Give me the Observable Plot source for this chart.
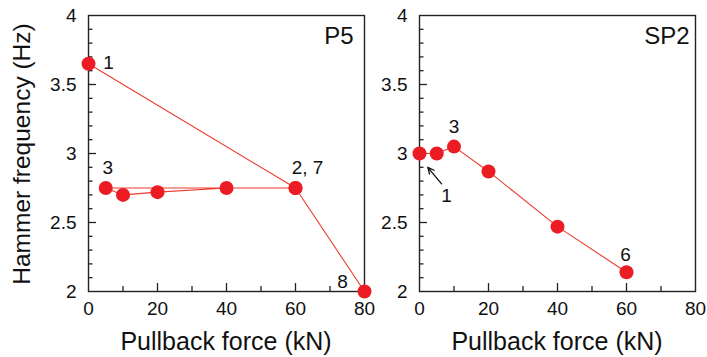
<!DOCTYPE html>
<html>
<head>
<meta charset="utf-8">
<script src="https://cdn.jsdelivr.net/npm/d3@7"></script>
<script src="https://cdn.jsdelivr.net/npm/@observablehq/plot@0.6"></script>
<style>
  body { margin: 0; background: #fff; }
  #wrap { position: relative; width: 707px; height: 357px; overflow: hidden; font-family: "Liberation Sans", Arial, sans-serif; color: #111; }
  .panel { position: absolute; top: 0; }
  .panel svg { overflow: visible; }
  .title { position: absolute; white-space: nowrap; transform: translate(-50%, -50%); font-size: 25px; }
</style>
</head>
<body>
<div id="wrap">
  <div id="left" class="panel" style="left:0px"></div>
  <div id="right" class="panel" style="left:360px"></div>
  <div class="title" style="left:22px; top:154px; transform: translate(-50%, -50%) rotate(-90deg); font-size:24.5px;">Hammer frequency (Hz)</div>
  <div class="title" style="left:226px; top:341px;">Pullback force (kN)</div>
  <div class="title" style="left:557px; top:341px;">Pullback force (kN)</div>
</div>
<script>
// ---- data ----
const p5Force = [0, 60, 5, 10, 20, 40, 60, 80];
const p5Freq  = [3.65, 2.75, 2.75, 2.70, 2.72, 2.75, 2.75, 2.00];
const p5LabelPoint = [0, 2, 1, 7];
const p5LabelText  = ["1", "3", "2, 7", "8"];

const sp2Force = [0, 5, 10, 20, 40, 60];
const sp2Freq  = [3.00, 3.00, 3.05, 2.87, 2.47, 2.14];
const sp2LabelPoint = [2, 5, 0];
const sp2LabelText  = ["3", "6", "1"];
const sp2ArrowFrom = [6.4, 2.78];
const sp2ArrowTo   = [2.4, 2.90];

const xTicks = [0, 20, 40, 60, 80];
const xMinorTicks = [10, 30, 50, 70];
const yTicks = [2, 2.5, 3, 3.5, 4];
const yMinorTicks = [2.1, 2.2, 2.3, 2.4, 2.6, 2.7, 2.8, 2.9, 3.1, 3.2, 3.3, 3.4, 3.6, 3.7, 3.8, 3.9];

// ---- styles ----
const RED = "#ec1c24";
const LINE = "#ef3a2c";
const INK = "#222";
const FRAME = 276; // plot area size in px (square)
const labelOffsets = {
  P5: [[20, -1], [2, -20], [12, -20], [-22, -10]],
  SP2: [[0, -20], [-1, -17], [27, 42]]
};
const titleDx = { P5: -11, SP2: -6 };

function panel(force, freq, labelPoint, labelText, title, layout, arrow) {
  const data = force.map((x, i) => ({ x, y: freq[i] }));
  const tk = { stroke: INK, strokeWidth: 1.3 };
  const marks = [
    // inward ticks from the left and bottom frame edges
    Plot.tickY(yTicks.slice(1, -1), { y: d => d, insetRight: FRAME - 8, ...tk }),
    Plot.tickY(yMinorTicks, { y: d => d, insetRight: FRAME - 4.5, ...tk }),
    Plot.tickX(xTicks.slice(1, -1), { x: d => d, insetTop: FRAME - 8, ...tk }),
    Plot.tickX(xMinorTicks, { x: d => d, insetTop: FRAME - 5, ...tk }),
    Plot.frame({ stroke: INK, strokeWidth: 1.4 }),
    // tick labels
    Plot.axisY(yTicks, { anchor: "left", tickSize: 0, tickPadding: 12, tickFormat: d => String(d), fontSize: 19, label: null, fill: "#111" }),
    Plot.axisX(xTicks, { anchor: "bottom", tickSize: 0, tickPadding: 10, tickFormat: d => String(d), fontSize: 19, label: null, fill: "#111" }),
    Plot.line(data, { x: "x", y: "y", stroke: LINE, strokeWidth: 1.1 }),
    Plot.dot(data, { x: "x", y: "y", r: 7, fill: RED, stroke: "none" }),
    Plot.text([title], { text: d => d, frameAnchor: "top-right", textAnchor: "end", lineAnchor: "top", dx: titleDx[title], dy: 11, fontSize: 24, fill: "#111" })
  ];
  labelPoint.forEach((pi, k) => {
    const [dx, dy] = labelOffsets[title][k];
    marks.push(Plot.text([{ x: force[pi], y: freq[pi], t: labelText[k] }], {
      x: "x", y: "y", text: "t", dx, dy, fontSize: 19, fill: "#111", textAnchor: "middle", lineAnchor: "middle"
    }));
  });
  if (arrow) {
    marks.push(Plot.arrow([{ x1: arrow[0][0], y1: arrow[0][1], x2: arrow[1][0], y2: arrow[1][1] }], {
      x1: "x1", y1: "y1", x2: "x2", y2: "y2", stroke: "#111", strokeWidth: 1.3, headLength: 8, headAngle: 50
    }));
  }
  return Plot.plot({
    width: layout.width,
    height: 357,
    marginLeft: layout.marginLeft,
    marginRight: layout.marginRight,
    marginTop: 15,
    marginBottom: 66,
    style: { background: "transparent", fontFamily: "'Liberation Sans', Arial, sans-serif", overflow: "visible" },
    x: { domain: [0, 80] },
    y: { domain: [2, 4] },
    marks
  });
}

document.getElementById("left").appendChild(
  panel(p5Force, p5Freq, p5LabelPoint, p5LabelText, "P5", { width: 400, marginLeft: 88, marginRight: 36 })
);
document.getElementById("right").appendChild(
  panel(sp2Force, sp2Freq, sp2LabelPoint, sp2LabelText, "SP2", { width: 347, marginLeft: 59, marginRight: 12 }, [sp2ArrowFrom, sp2ArrowTo])
);
</script>
</body>
</html>
